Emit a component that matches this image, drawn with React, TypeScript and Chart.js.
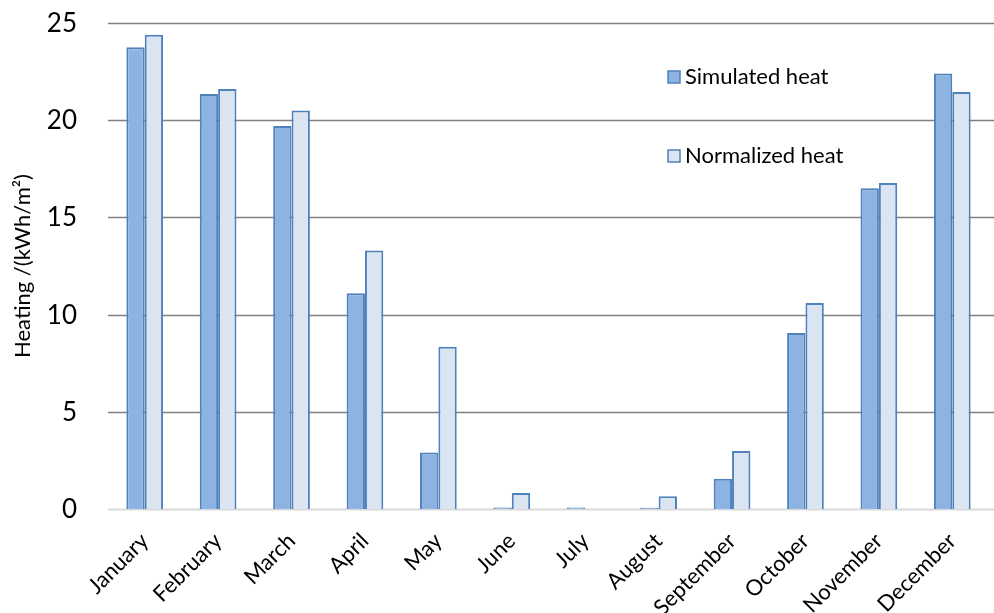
import React, { useEffect, useRef } from "react";
import { Chart, registerables } from "chart.js";

Chart.register(...registerables);

const months = [
  "January", "February", "March", "April", "May", "June",
  "July", "August", "September", "October", "November", "December",
];
const simulatedHeat = [23.75, 21.35, 19.7, 11.1, 2.9, 0.08, 0.08, 0.06, 1.55, 9.05, 16.5, 22.4];
const normalizedHeat = [24.4, 21.6, 20.5, 13.3, 8.35, 0.82, 0, 0.65, 2.98, 10.6, 16.77, 21.45];
const yTicks = [0, 5, 10, 15, 20, 25];

const FONT = "Lato, 'Open Sans', sans-serif";
const EDGE = "#4f81bd";
const SIM_FILL = "#8db3e2";
const NORM_FILL = "#dbe5f1";

// Horizontal grid lines across the full width, plus the value labels on the left.
const gridPlugin = {
  id: "fullGrid",
  beforeDatasetsDraw(chart: any) {
    const { ctx, chartArea, scales } = chart;
    const y = scales.y;
    ctx.save();
    yTicks.forEach((v) => {
      const py = Math.round(y.getPixelForValue(v)) + 0.5;
      ctx.beginPath();
      ctx.lineWidth = v === 0 ? 2 : 1.5;
      ctx.strokeStyle = v === 0 ? "#d9d9d9" : "#808080";
      ctx.moveTo(chartArea.left, py);
      ctx.lineTo(chart.width, py);
      ctx.stroke();
      ctx.fillStyle = "#000";
      ctx.font = `26px ${FONT}`;
      ctx.textAlign = "right";
      ctx.textBaseline = "middle";
      ctx.fillText(String(v), 77, py);
    });
    ctx.restore();
  },
};

// Legend placed inside the plot, upper right.
const legendPlugin = {
  id: "innerLegend",
  afterDraw(chart: any) {
    const { ctx } = chart;
    const items = chart.data.datasets.map((d: any, i: number) => ({
      label: d.label,
      fill: d.backgroundColor,
      y: i === 0 ? 77 : 156,
    }));
    ctx.save();
    items.forEach((it: any) => {
      ctx.fillStyle = it.fill;
      ctx.fillRect(668, it.y - 6, 12, 12);
      ctx.strokeStyle = EDGE;
      ctx.lineWidth = 1.5;
      ctx.strokeRect(668, it.y - 6, 12, 12);
      ctx.fillStyle = "#000";
      ctx.font = `22px ${FONT}`;
      ctx.textBaseline = "middle";
      ctx.textAlign = "left";
      ctx.fillText(it.label, 685, it.y);
    });
    ctx.restore();
  },
};

export default function App() {
  const ref = useRef<HTMLCanvasElement>(null);

  useEffect(() => {
    document.body.style.margin = "0";
    const chart = new Chart(ref.current!, {
      type: "bar",
      data: {
        labels: months,
        datasets: [
          {
            label: "Simulated heat",
            data: simulatedHeat,
            backgroundColor: SIM_FILL,
            borderColor: EDGE,
            borderWidth: 2,
            borderSkipped: "bottom",
          },
          {
            label: "Normalized heat",
            data: normalizedHeat,
            backgroundColor: NORM_FILL,
            borderColor: EDGE,
            borderWidth: 2,
            borderSkipped: "bottom",
          },
        ],
      },
      options: {
        animation: false,
        responsive: false,
        devicePixelRatio: 1,
        layout: { padding: { top: 23, right: 5, left: 0, bottom: 0 } },
        datasets: { bar: { categoryPercentage: 0.5, barPercentage: 1 } },
        plugins: { legend: { display: false }, tooltip: { enabled: false } },
        scales: {
          x: {
            grid: { display: false },
            border: { display: false },
            ticks: {
              color: "#000",
              font: { family: FONT, size: 22 },
              minRotation: 45,
              maxRotation: 45,
              autoSkip: false,
              padding: 11,
            },
            afterFit(s: any) {
              s.height = 104;
            },
          },
          y: {
            min: 0,
            max: 25,
            afterBuildTicks(s: any) {
              s.ticks = yTicks.map((v) => ({ value: v }));
            },
            grid: { display: false },
            border: { display: false },
            title: {
              display: true,
              text: "Heating /(kWh/m²)",
              color: "#000",
              font: { family: FONT, size: 22 },
              padding: { top: 10, bottom: 0 },
            },
            ticks: { display: false },
            afterFit(s: any) {
              s.width = 108;
            },
          },
        },
      },
      plugins: [gridPlugin, legendPlugin],
    });
    return () => chart.destroy();
  }, []);

  return <canvas ref={ref} width={994} height={613} style={{ display: "block" }} />;
}
